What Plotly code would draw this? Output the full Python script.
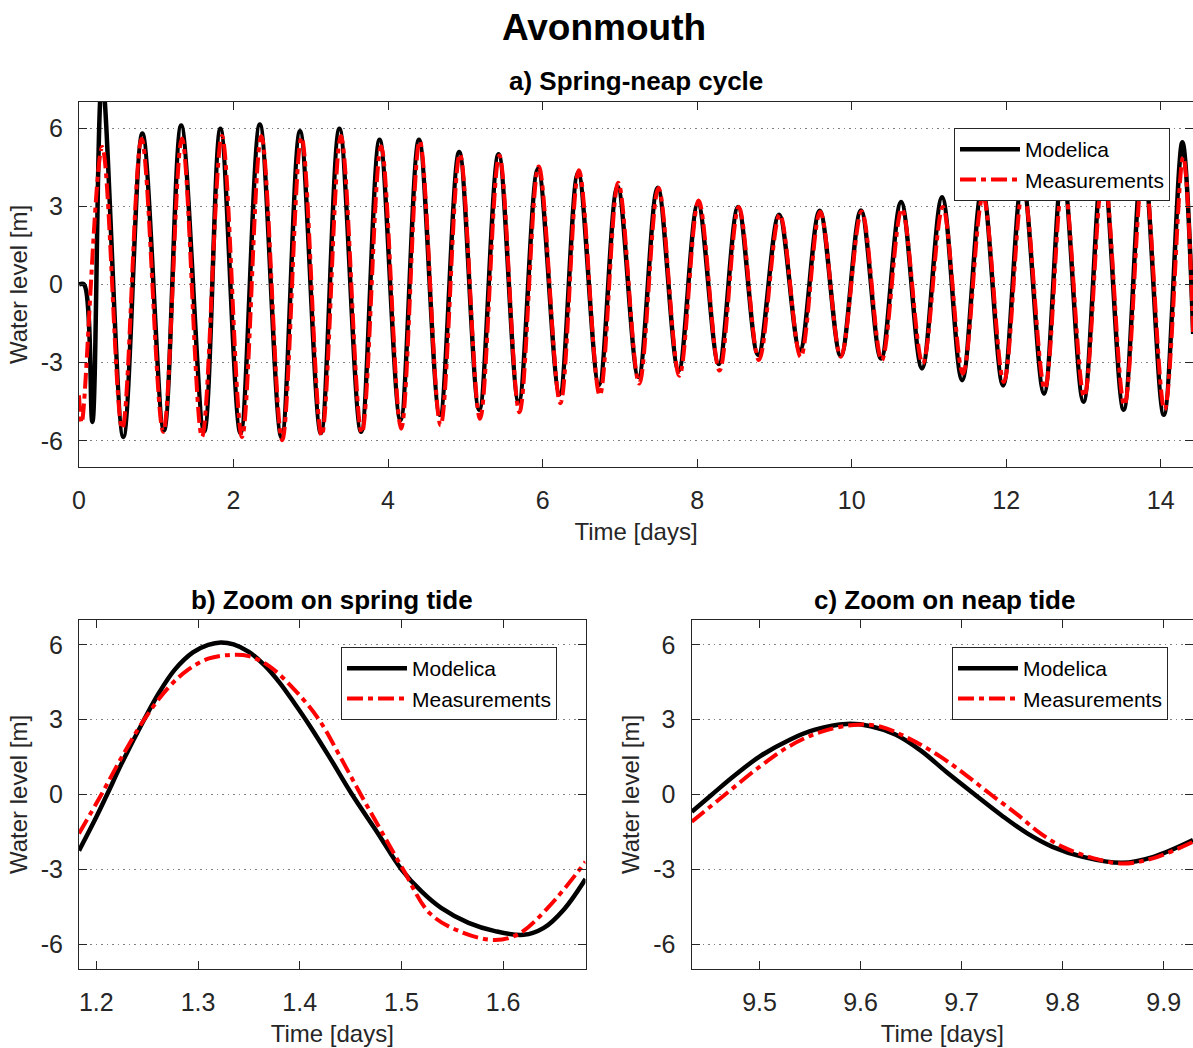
import plotly.graph_objects as go

# ---------------- data ----------------
# a) full spring-neap cycle: turning points of the tide [days], [m]
t_model = [0.0, 0.065, 0.173, 0.30, 0.574, 0.82, 1.10, 1.3225, 1.62, 1.83, 2.09, 2.34, 2.62,
           2.86, 3.13, 3.37, 3.65, 3.89, 4.16, 4.40, 4.67, 4.92, 5.18, 5.43, 5.69, 5.94,
           6.22, 6.46, 6.73, 6.97, 7.24, 7.49, 7.76, 8.01, 8.28, 8.53, 8.79, 9.06, 9.33,
           9.586, 9.859, 10.12, 10.38, 10.64, 10.91, 11.17, 11.43, 11.69, 11.96, 12.21,
           12.49, 12.73, 13.0, 13.25, 13.52, 13.77, 14.04, 14.28, 14.42]
h_model = [0.0, 0.0, -5.27, 7.9, -5.85, 5.79, -5.59, 6.1, -5.63, 5.97, -5.7, 6.14, -5.85,
           5.88, -5.7, 5.97, -5.65, 5.55, -5.2, 5.55, -5.0, 5.08, -4.8, 5.0, -4.5, 4.44,
           -4.2, 4.3, -3.85, 3.76, -3.55, 3.71, -3.3, 3.1, -3.05, 2.97, -2.7, 2.68, -2.52,
           2.83, -2.74, 2.84, -2.84, 3.16, -3.22, 3.35, -3.67, 3.7, -3.87, 4.0,
           -4.19, 4.4, -4.5, 4.7, -4.8, 5.0, -5.0, 5.46, -1.9]

t_meas = [0.0, 0.035, 0.30, 0.56, 0.81, 1.09, 1.332, 1.592, 1.85, 2.11, 2.36, 2.63, 2.88,
          3.14, 3.39, 3.66, 3.91, 4.17, 4.41, 4.68, 4.93, 5.19, 5.44, 5.70, 5.95, 6.23,
          6.47, 6.74, 6.98, 7.25, 7.50, 7.77, 8.02, 8.29, 8.54, 8.80, 9.07, 9.34, 9.593,
          9.86, 10.13, 10.39, 10.65, 10.92, 11.18, 11.44, 11.70, 11.97, 12.22, 12.50,
          12.74, 13.01, 13.26, 13.53, 13.78, 14.05, 14.29, 14.42]
h_meas = [-4.25, -5.3, 5.27, -5.53, 5.59, -5.65, 5.6, -5.84, 5.7, -5.85, 5.7, -5.97, 5.65,
          -5.8, 5.7, -5.7, 5.3, -5.53, 5.5, -5.4, 5.0, -5.15, 4.95, -4.9, 4.53, -4.55,
          4.38, -4.25, 3.9, -3.8, 3.7, -3.5, 3.22, -3.3, 2.97, -2.9, 2.68, -2.78, 2.79,
          -2.77, 2.8, -2.9, 2.9, -3.03, 2.97, -3.42, 3.4, -3.74, 3.7, -4.0,
          4.1, -4.3, 4.4, -4.63, 4.6, -4.8, 4.89, -1.9]

# b) spring tide detail
t_spring_model = [1.183, 1.2, 1.2106, 1.225, 1.247, 1.262, 1.277, 1.295, 1.31, 1.3225, 1.335,
                  1.35, 1.365, 1.38, 1.395, 1.41, 1.43, 1.4515, 1.476, 1.5, 1.52, 1.539,
                  1.566, 1.592, 1.62, 1.64, 1.66, 1.681]
h_spring_model = [-2.25, -0.9, 0.0, 1.25, 3.0, 4.1, 5.0, 5.7, 6.0, 6.1, 6.02,
                  5.72, 5.2, 4.5, 3.65, 2.75, 1.45, 0.0, -1.5, -3.0, -3.9, -4.55,
                  -5.15, -5.48, -5.63, -5.35, -4.6, -3.39]
t_spring_meas = [1.183, 1.205, 1.225, 1.247, 1.27, 1.29, 1.31, 1.332, 1.35, 1.37, 1.395,
                 1.419, 1.44, 1.46, 1.48, 1.5016, 1.528, 1.558, 1.592, 1.615, 1.645, 1.681]
h_spring_meas = [-1.56, 0.0, 1.5, 3.0, 4.25, 5.0, 5.45, 5.6, 5.55, 5.15, 4.2,
                 3.0, 1.5, 0.0, -1.45, -3.0, -4.77, -5.5, -5.84, -5.6, -4.5, -2.7]

# c) neap tide detail
t_neap_model = [9.433, 9.453, 9.475, 9.5, 9.53, 9.555, 9.586, 9.61, 9.635, 9.66, 9.685,
                9.713, 9.74, 9.765, 9.79, 9.82, 9.859, 9.89, 9.929]
h_neap_model = [-0.69, 0.0, 0.75, 1.52, 2.2, 2.6, 2.83, 2.74, 2.4, 1.75, 0.9,
                0.0, -0.85, -1.56, -2.1, -2.5, -2.74, -2.5, -1.83]
t_neap_meas = [9.433, 9.466, 9.5, 9.53, 9.56, 9.593, 9.62, 9.65, 9.679, 9.705, 9.729,
               9.755, 9.778, 9.80, 9.83, 9.86, 9.89, 9.929]
h_neap_meas = [-1.09, 0.0, 1.11, 1.95, 2.5, 2.79, 2.72, 2.2, 1.52, 0.76, 0.0,
               -0.8, -1.56, -2.1, -2.55, -2.77, -2.55, -1.9]

y_ticks = [-6, -3, 0, 3, 6]
y_ticklabels = ["-6", "-3", "0", "3", "6"]
x_ticks_a = [0, 2, 4, 6, 8, 10, 12, 14]
x_ticks_b = [1.2, 1.3, 1.4, 1.5, 1.6]
x_ticks_c = [9.5, 9.6, 9.7, 9.8, 9.9]

series_names = ["Modelica", "Measurements"]

# ---------------- layout helpers ----------------
W, H = 1193, 1048
ML, MR, MT, MB = 79, 0, 102, 79
PW, PH = W - ML - MR, H - MT - MB


def px(x):
    return (x - ML) / PW


def py(y):
    return (H - MB - y) / PH


FONT = "Liberation Sans, Arial, Helvetica, sans-serif"
AX = "#262626"
RED_DASH = "16px,5px,5px,5px"

fig = go.Figure()

panels = [
    ("x", "y", "legend", t_model, h_model, t_meas, h_meas),
    ("x2", "y2", "legend2", t_spring_model, h_spring_model, t_spring_meas, h_spring_meas),
    ("x3", "y3", "legend3", t_neap_model, h_neap_model, t_neap_meas, h_neap_meas),
]
for xa, ya, lg, tm, hm, tr, hr in panels:
    fig.add_trace(go.Scatter(x=tm, y=hm, mode="lines", name=series_names[0],
                             line=dict(color="black", width=4.5, shape="spline", smoothing=1),
                             xaxis=xa, yaxis=ya, legend=lg))
    fig.add_trace(go.Scatter(x=tr, y=hr, mode="lines", name=series_names[1],
                             line=dict(color="red", width=4, dash=RED_DASH, shape="spline",
                                       smoothing=1),
                             xaxis=xa, yaxis=ya, legend=lg))

common_x = dict(ticks="inside", ticklen=8, tickcolor=AX, tickwidth=1, showline=True,
                linecolor=AX, linewidth=1, mirror="ticks", showgrid=False, zeroline=False,
                tickfont=dict(family=FONT, size=25, color=AX), ticklabelstandoff=11,
                title=dict(text="Time [days]", font=dict(family=FONT, size=24, color=AX),
                           standoff=10))
common_y = dict(ticks="inside", ticklen=8, tickcolor=AX, tickwidth=1, showline=True,
                linecolor=AX, linewidth=1, mirror="ticks", showgrid=True,
                gridcolor="#808080", gridwidth=1, griddash="1.5px,4px", zeroline=False,
                range=[-7, 7], tickvals=y_ticks, ticktext=y_ticklabels,
                tickfont=dict(family=FONT, size=25, color=AX), ticklabelstandoff=10,
                title=dict(text="Water level [m]", font=dict(family=FONT, size=24, color=AX),
                           standoff=6))

top_y0 = py(467)
bot_y1 = py(620)
b_x1 = px(585.5)
c_x0 = px(691.5)

fig.update_layout(
    width=W, height=H, margin=dict(l=ML, r=MR, t=MT, b=MB),
    paper_bgcolor="white", plot_bgcolor="white",
    font=dict(family=FONT, color=AX),
    title=dict(text="<b>Avonmouth</b>", x=604 / W, xanchor="center", y=1 - 27 / H,
               yanchor="middle", yref="container",
               font=dict(family=FONT, size=37, color="black")),
    xaxis=dict(common_x, domain=[0, 1], anchor="y", range=[0, 14.418], tickvals=x_ticks_a),
    yaxis=dict(common_y, domain=[top_y0, 1], anchor="x"),
    xaxis2=dict(common_x, domain=[0, b_x1], anchor="y2", range=[1.183, 1.681],
                tickvals=x_ticks_b),
    yaxis2=dict(common_y, domain=[0, bot_y1], anchor="x2"),
    xaxis3=dict(common_x, domain=[c_x0, 1], anchor="y3", range=[9.4327, 9.929],
                tickvals=x_ticks_c),
    yaxis3=dict(common_y, domain=[0, bot_y1], anchor="x3"),
    showlegend=True,
)

leg_common = dict(bgcolor="white", bordercolor=AX, borderwidth=1,
                  font=dict(family=FONT, size=21, color="black"), itemwidth=60,
                  xanchor="right", yanchor="top", tracegroupgap=0)
fig.update_layout(
    legend=dict(leg_common, x=px(1170), y=py(128)),
    legend2=dict(leg_common, x=px(557), y=py(647)),
    legend3=dict(leg_common, x=px(1168), y=py(647)),
)

titles = [("<b>a) Spring-neap cycle</b>", 636, 81),
          ("<b>b) Zoom on spring tide</b>", 332, 600),
          ("<b>c) Zoom on neap tide</b>", 944.5, 600)]
for txt, xpx, ypx in titles:
    fig.add_annotation(text=txt, xref="paper", yref="paper", x=px(xpx), y=py(ypx),
                       xanchor="center", yanchor="middle", showarrow=False,
                       font=dict(family=FONT, size=26, color="black"))

fig.write_html("out.html")
